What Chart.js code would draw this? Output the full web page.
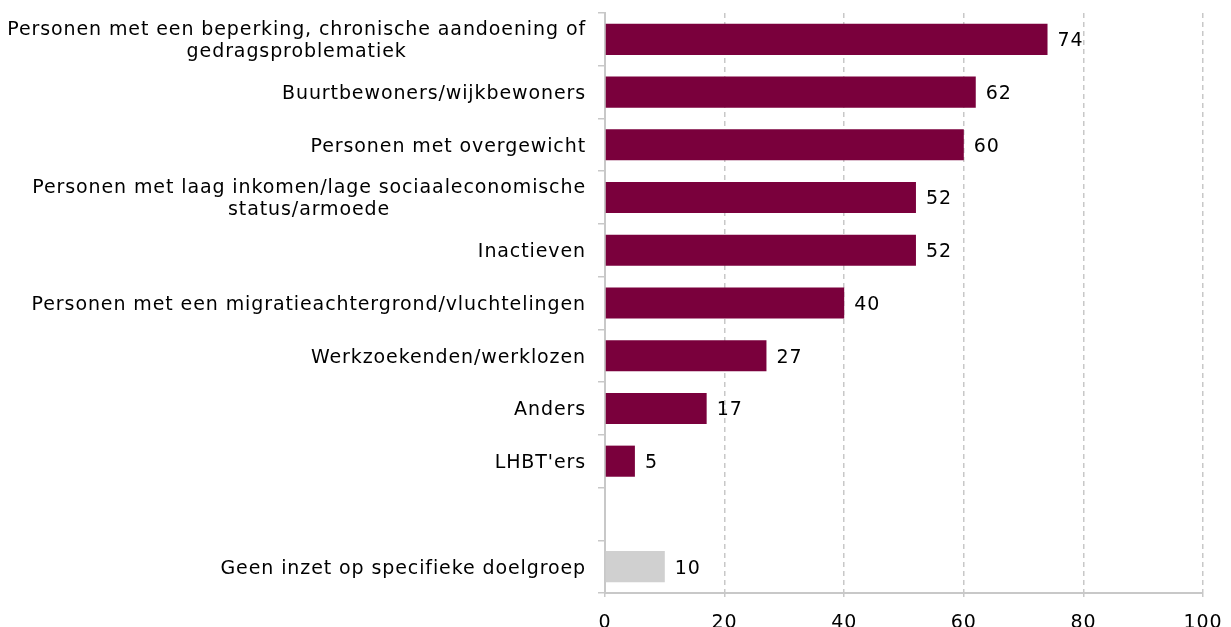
<!DOCTYPE html>
<html>
<head>
<meta charset="utf-8">
<script src="https://cdn.jsdelivr.net/npm/chart.js@4"></script>
<style>
  html, body { margin: 0; padding: 0; background: #fff; }
  #wrap { width: 1231px; height: 627px; }
</style>
</head>
<body>
<div id="wrap"><canvas id="myChart"></canvas></div>
<script>
var categorieen = [
  ["Personen met een beperking, chronische aandoening of", "gedragsproblematiek"],
  "Buurtbewoners/wijkbewoners",
  "Personen met overgewicht",
  ["Personen met laag inkomen/lage sociaaleconomische", "status/armoede"],
  "Inactieven",
  "Personen met een migratieachtergrond/vluchtelingen",
  "Werkzoekenden/werklozen",
  "Anders",
  "LHBT'ers",
  "",
  "Geen inzet op specifieke doelgroep"
];
var waarden = [74, 62, 60, 52, 52, 40, 27, 17, 5, null, 10];
var xTicks = [0, 20, 40, 60, 80, 100];

var kleurBalk = "#7a003c";
var kleurGrijs = "#d0d0d0";
var kleuren = waarden.map(function (v, i) {
  return i === waarden.length - 1 ? kleurGrijs : kleurBalk;
});

Chart.defaults.font.family = "'DejaVu Sans', sans-serif";
Chart.defaults.font.size = 19;
Chart.defaults.color = "#000";

// iets bredere letters, zoals in het origineel
var spatie = "0.9px";
var letterAfstand = {
  id: "letterAfstand",
  beforeLayout: function (chart) { chart.ctx.letterSpacing = spatie; },
  beforeDraw: function (chart) { chart.ctx.letterSpacing = spatie; },
};

// categorienamen: blok rechts uitgelijnd, regels binnen het blok gecentreerd
var categorieLabels = {
  id: "categorieLabels",
  afterDraw: function (chart) {
    var ctx = chart.ctx;
    var y = chart.scales.y;
    var rechts = y.right - 19;
    ctx.save();
    ctx.letterSpacing = spatie;
    ctx.font = "19px 'DejaVu Sans', sans-serif";
    ctx.fillStyle = "#000";
    ctx.textAlign = "center";
    ctx.textBaseline = "middle";
    categorieen.forEach(function (lab, i) {
      var regels = Array.isArray(lab) ? lab : [lab];
      var breed = 0;
      regels.forEach(function (r) { breed = Math.max(breed, ctx.measureText(r).width); });
      var midden = y.getPixelForValue(i) + 2;
      regels.forEach(function (r, j) {
        ctx.fillText(r, rechts - breed / 2, midden + (j - (regels.length - 1) / 2) * 22);
      });
    });
    ctx.restore();
  }
};

// waarde achter de balk schrijven
var waardeLabels = {
  id: "waardeLabels",
  afterDatasetsDraw: function (chart) {
    var ctx = chart.ctx;
    var meta = chart.getDatasetMeta(0);
    ctx.save();
    ctx.letterSpacing = spatie;
    ctx.font = "19px 'DejaVu Sans', sans-serif";
    ctx.fillStyle = "#000";
    ctx.textAlign = "left";
    ctx.textBaseline = "middle";
    meta.data.forEach(function (bar, i) {
      var v = waarden[i];
      if (v === null) return;
      ctx.fillText(String(v), bar.x + 10, bar.y + 2);
    });
    ctx.restore();
  }
};

new Chart("myChart", {
  type: "bar",
  data: {
    labels: categorieen,
    datasets: [
      {
        data: waarden,
        backgroundColor: kleuren,
        borderWidth: 0,
        categoryPercentage: 0.59,
        barPercentage: 1.0,
      },
    ],
  },
  plugins: [letterAfstand, waardeLabels, categorieLabels],
  options: {
    indexAxis: "y",
    responsive: true,
    maintainAspectRatio: false,
    animation: false,
    layout: { padding: { top: 13, right: 28, left: 0, bottom: 0 } },
    plugins: {
      legend: false,
      tooltip: { enabled: false },
    },
    scales: {
      x: {
        min: 0,
        max: 100,
        afterBuildTicks: function (scale) {
          scale.ticks = xTicks.map(function (v) { return { value: v }; });
        },
        afterFit: function (scale) {
          scale.height = 34;
          scale.paddingLeft = 0;
          scale.paddingRight = 0;
        },
        grid: {
          color: "#c8c8c8",
          lineWidth: 1.5,
          tickLength: 4,
          tickColor: "#c8c8c8",
          drawOnChartArea: true,
        },
        border: { display: true, color: "#c8c8c8", width: 2, dash: [5, 4] },
        ticks: { padding: 15, maxRotation: 0, font: { size: 19 } },
      },
      y: {
        afterFit: function (scale) {
          scale.width = 605;
          scale.paddingTop = 0;
          scale.paddingBottom = 0;
        },
        grid: {
          drawOnChartArea: false,
          tickLength: 7,
          color: "#c8c8c8",
          lineWidth: 1.5,
        },
        border: { display: true, color: "#c8c8c8", width: 2 },
        ticks: { display: false, autoSkip: false },
      },
    },
  },
});
</script>
</body>
</html>
